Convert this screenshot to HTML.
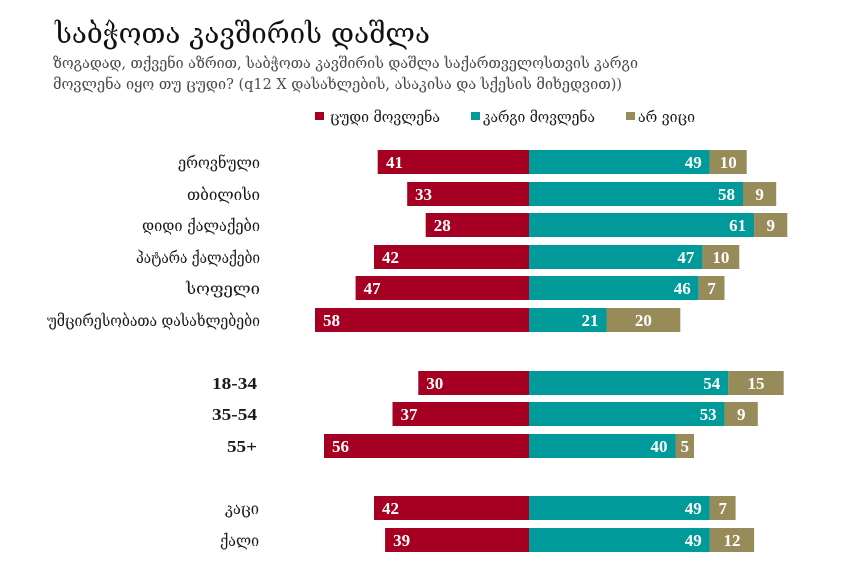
<!DOCTYPE html>
<html><head><meta charset="utf-8">
<style>
html,body{margin:0;padding:0;background:#fff;}
svg{display:block;}
.g{font-family:"DejaVu Serif","DejaVu Sans",sans-serif;}
.n{font-family:"Liberation Serif",serif;font-weight:bold;font-size:17px;fill:#fff;}
.c{font-family:"DejaVu Serif","DejaVu Sans",sans-serif;font-size:16px;fill:#1a1a1a;}
.a{font-family:"Liberation Serif",serif;font-weight:bold;font-size:17px;fill:#1a1a1a;}
</style></head>
<body>
<svg width="850" height="565" viewBox="0 0 850 565" xmlns="http://www.w3.org/2000/svg">
<rect width="850" height="565" fill="#fff"/>
<text class="g" x="55" y="43" font-size="28" fill="#111" textLength="375" lengthAdjust="spacingAndGlyphs">საბჭოთა კავშირის დაშლა</text>
<text class="g" x="53" y="68" font-size="15" fill="#4a4a4a" textLength="585" lengthAdjust="spacingAndGlyphs">ზოგადად, თქვენი აზრით, საბჭოთა კავშირის დაშლა საქართველოსთვის კარგი</text>
<text class="g" x="53" y="89" font-size="15" fill="#4a4a4a" textLength="569" lengthAdjust="spacingAndGlyphs">მოვლენა იყო თუ ცუდი? (q12 X დასახლების, ასაკისა და სქესის მიხედვით))</text>

<rect x="315" y="112" width="9" height="8" fill="#a50021"/>
<text class="g" x="330" y="122" font-size="15" fill="#1a1a1a" textLength="110" lengthAdjust="spacingAndGlyphs">ცუდი მოვლენა</text>
<rect x="471" y="112" width="9" height="8" fill="#009a9a"/>
<text class="g" x="483" y="122" font-size="15" fill="#1a1a1a" textLength="112" lengthAdjust="spacingAndGlyphs">კარგი მოვლენა</text>
<rect x="626" y="112" width="9" height="8" fill="#978b5a"/>
<text class="g" x="638" y="122" font-size="15" fill="#1a1a1a" textLength="57" lengthAdjust="spacingAndGlyphs">არ ვიცი</text>

<!-- category labels -->
<text class="c" x="178" y="168" textLength="82" lengthAdjust="spacingAndGlyphs">ეროვნული</text>
<text class="c" x="187" y="200" textLength="73" lengthAdjust="spacingAndGlyphs">თბილისი</text>
<text class="c" x="142" y="231" textLength="118" lengthAdjust="spacingAndGlyphs">დიდი ქალაქები</text>
<text class="c" x="136" y="263" textLength="124" lengthAdjust="spacingAndGlyphs">პატარა ქალაქები</text>
<text class="c" x="186" y="294" textLength="74" lengthAdjust="spacingAndGlyphs">სოფელი</text>
<text class="c" x="47" y="326" textLength="213" lengthAdjust="spacingAndGlyphs">უმცირესობათა დასახლებები</text>
<text class="a" x="212" y="389" textLength="45" lengthAdjust="spacingAndGlyphs">18-34</text>
<text class="a" x="212" y="420" textLength="45" lengthAdjust="spacingAndGlyphs">35-54</text>
<text class="a" x="227" y="452" textLength="30" lengthAdjust="spacingAndGlyphs">55+</text>
<text class="c" x="225" y="514" textLength="34" lengthAdjust="spacingAndGlyphs">კაცი</text>
<text class="c" x="220" y="546" textLength="39" lengthAdjust="spacingAndGlyphs">ქალი</text>

<!-- row 1 -->
<rect x="377.7" y="150" width="151.3" height="24" fill="#a50021"/>
<rect x="529" y="150" width="180.8" height="24" fill="#009a9a"/>
<rect x="709.8" y="150" width="36.9" height="24" fill="#978b5a"/>
<text class="n" x="386" y="168">41</text>
<text class="n" x="701.8" y="168" text-anchor="end">49</text>
<text class="n" x="728.3" y="168" text-anchor="middle">10</text>
<!-- row 2 -->
<rect x="407.2" y="182" width="121.8" height="24" fill="#a50021"/>
<rect x="529" y="182" width="214" height="24" fill="#009a9a"/>
<rect x="743" y="182" width="33.2" height="24" fill="#978b5a"/>
<text class="n" x="415" y="200">33</text>
<text class="n" x="735" y="200" text-anchor="end">58</text>
<text class="n" x="759.6" y="200" text-anchor="middle">9</text>
<!-- row 3 -->
<rect x="425.7" y="213" width="103.3" height="24" fill="#a50021"/>
<rect x="529" y="213" width="225.1" height="24" fill="#009a9a"/>
<rect x="754.1" y="213" width="33.2" height="24" fill="#978b5a"/>
<text class="n" x="433.7" y="231">28</text>
<text class="n" x="746.1" y="231" text-anchor="end">61</text>
<text class="n" x="770.7" y="231" text-anchor="middle">9</text>
<!-- row 4 -->
<rect x="374" y="245" width="155" height="24" fill="#a50021"/>
<rect x="529" y="245" width="173.4" height="24" fill="#009a9a"/>
<rect x="702.4" y="245" width="36.9" height="24" fill="#978b5a"/>
<text class="n" x="382" y="263">42</text>
<text class="n" x="694.4" y="263" text-anchor="end">47</text>
<text class="n" x="720.9" y="263" text-anchor="middle">10</text>
<!-- row 5 -->
<rect x="355.6" y="276" width="173.4" height="24" fill="#a50021"/>
<rect x="529" y="276" width="169.7" height="24" fill="#009a9a"/>
<rect x="698.7" y="276" width="25.8" height="24" fill="#978b5a"/>
<text class="n" x="363.6" y="294">47</text>
<text class="n" x="690.7" y="294" text-anchor="end">46</text>
<text class="n" x="711.6" y="294" text-anchor="middle">7</text>
<!-- row 6 -->
<rect x="315" y="308" width="214" height="24" fill="#a50021"/>
<rect x="529" y="308" width="77.5" height="24" fill="#009a9a"/>
<rect x="606.5" y="308" width="73.8" height="24" fill="#978b5a"/>
<text class="n" x="323" y="326">58</text>
<text class="n" x="598.5" y="326" text-anchor="end">21</text>
<text class="n" x="643.4" y="326" text-anchor="middle">20</text>
<!-- row 7 -->
<rect x="418.3" y="371" width="110.7" height="24" fill="#a50021"/>
<rect x="529" y="371" width="199.3" height="24" fill="#009a9a"/>
<rect x="728.3" y="371" width="55.4" height="24" fill="#978b5a"/>
<text class="n" x="426.3" y="389">30</text>
<text class="n" x="720.3" y="389" text-anchor="end">54</text>
<text class="n" x="756" y="389" text-anchor="middle">15</text>
<!-- row 8 -->
<rect x="392.5" y="402" width="136.5" height="24" fill="#a50021"/>
<rect x="529" y="402" width="195.6" height="24" fill="#009a9a"/>
<rect x="724.6" y="402" width="33.2" height="24" fill="#978b5a"/>
<text class="n" x="400.5" y="420">37</text>
<text class="n" x="716.6" y="420" text-anchor="end">53</text>
<text class="n" x="741.2" y="420" text-anchor="middle">9</text>
<!-- row 9 -->
<rect x="324" y="434" width="205" height="24" fill="#a50021"/>
<rect x="529" y="434" width="146.5" height="24" fill="#009a9a"/>
<rect x="675.5" y="434" width="18.5" height="24" fill="#978b5a"/>
<text class="n" x="332" y="452">56</text>
<text class="n" x="667.5" y="452" text-anchor="end">40</text>
<text class="n" x="684.7" y="452" text-anchor="middle">5</text>
<!-- row 10 -->
<rect x="374" y="496" width="155" height="24" fill="#a50021"/>
<rect x="529" y="496" width="180.8" height="24" fill="#009a9a"/>
<rect x="709.8" y="496" width="25.8" height="24" fill="#978b5a"/>
<text class="n" x="382" y="514">42</text>
<text class="n" x="701.8" y="514" text-anchor="end">49</text>
<text class="n" x="722.7" y="514" text-anchor="middle">7</text>
<!-- row 11 -->
<rect x="385.1" y="528" width="143.9" height="24" fill="#a50021"/>
<rect x="529" y="528" width="180.8" height="24" fill="#009a9a"/>
<rect x="709.8" y="528" width="44.3" height="24" fill="#978b5a"/>
<text class="n" x="393.1" y="546">39</text>
<text class="n" x="701.8" y="546" text-anchor="end">49</text>
<text class="n" x="732" y="546" text-anchor="middle">12</text>
</svg>
</body></html>
